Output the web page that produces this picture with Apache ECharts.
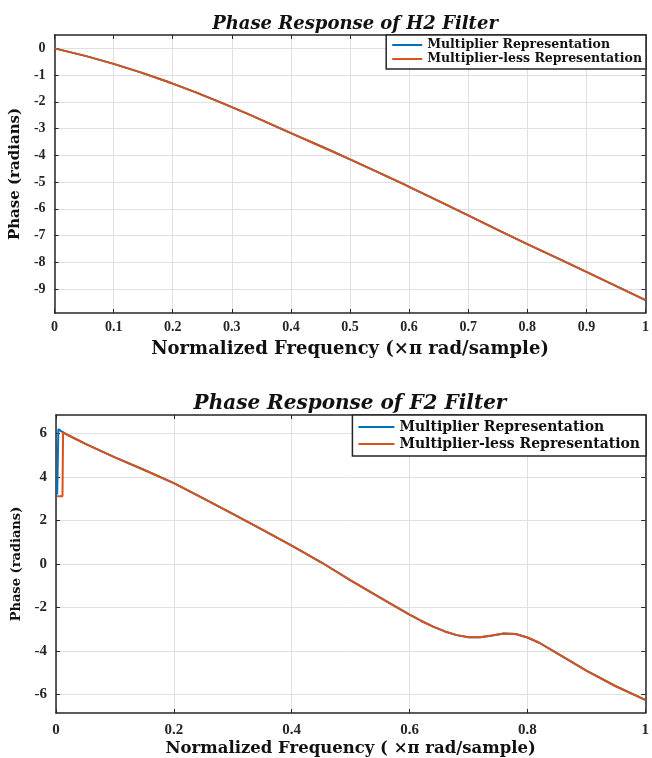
<!DOCTYPE html>
<html>
<head>
<meta charset="utf-8">
<script src="https://cdn.jsdelivr.net/npm/echarts@6/dist/echarts.min.js"></script>
<style>
  html, body { margin: 0; background: #fff; }
  #chart { width: 652px; height: 758px; }
</style>
</head>
<body>
<div id="chart"></div>
<script>
// H2 filter phase
const h2Freq      = [0, 0.1, 0.2, 0.3, 0.4, 0.5, 0.6, 0.7, 0.8, 0.9, 1];
const h2Mult      = [0, -0.58, -1.32, -2.2, -3.17, -4.15, -5.18, -6.25, -7.32, -8.36, -9.42];
const h2MultLess  = [0, -0.58, -1.32, -2.2, -3.17, -4.15, -5.18, -6.25, -7.32, -8.36, -9.42];
const h2YTicks    = [-9, -8, -7, -6, -5, -4, -3, -2, -1, 0];

// F2 filter phase: the start of each curve differs, the rest overlaps
const f2MultStartFreq = [0.002, 0.004, 0.008];
const f2MultStart     = [3.2, 6.2, 6.12];
const f2LessStartFreq = [0.002, 0.011, 0.012];
const f2LessStart     = [3.12, 3.12, 6.05];
const f2Freq = [0.02, 0.05, 0.1, 0.15, 0.2, 0.25, 0.3, 0.35, 0.4, 0.45, 0.5, 0.55, 0.6,
                0.62, 0.64, 0.66, 0.68, 0.7, 0.72, 0.74, 0.76, 0.78, 0.8, 0.82, 0.85,
                0.9, 0.95, 1];
const f2Phase = [5.93, 5.52, 4.9, 4.32, 3.72, 3.02, 2.3, 1.58, 0.84, 0.08, -0.75, -1.55, -2.33,
                 -2.62, -2.88, -3.1, -3.27, -3.37, -3.37, -3.29, -3.2, -3.22, -3.38, -3.62, -4.1,
                 -4.9, -5.62, -6.25];
const f2YTicks = [-6, -4, -2, 0, 2, 4, 6];

const legendNames = ['Multiplier Representation', 'Multiplier-less Representation'];
const colors = ['#0072BD', '#D95319'];

const pairs = (xs, ys) => xs.map((x, i) => [x, ys[i]]);

const serif = 'Liberation Serif';
const wide = 'DejaVu Serif';
const dark = '#262626';
const tickText = { color: dark, fontFamily: serif, fontWeight: 'bold', fontSize: 14 };
const nameText = size => ({ color: '#111', fontFamily: wide, fontWeight: 'bold', fontSize: size });

function frame(extra) {
  return Object.assign({
    type: 'value',
    axisLine: { onZero: false, lineStyle: { color: dark, width: 1.5 } },
    axisTick: { inside: true, length: 4, lineStyle: { color: dark } },
    splitLine: { lineStyle: { color: '#e0e0e0', width: 1 } }
  }, extra);
}

function boxSide(extra) {
  return frame(Object.assign({
    axisLabel: { show: false },
    splitLine: { show: false }
  }, extra));
}

const chart = echarts.init(document.getElementById('chart'), null, { renderer: 'canvas' });

chart.setOption({
  animation: false,
  backgroundColor: '#fff',
  title: [
    {
      text: 'Phase Response of H2 Filter', left: 350, top: 10, textAlign: 'center',
      textStyle: { fontFamily: wide, fontStyle: 'italic', fontWeight: 'bold', fontSize: 18, color: '#111' }
    },
    {
      text: 'Phase Response of F2 Filter', left: 345, top: 389, textAlign: 'center',
      textStyle: { fontFamily: wide, fontStyle: 'italic', fontWeight: 'bold', fontSize: 20, color: '#111' }
    }
  ],
  legend: [
    {
      data: legendNames, orient: 'vertical', right: 6, top: 35,
      padding: [3, 4, 3, 6], itemGap: 0, itemWidth: 30, itemHeight: 2, icon: 'rect',
      backgroundColor: '#fff', borderColor: dark, borderWidth: 1.5,
      textStyle: { fontFamily: wide, fontWeight: 'bold', fontSize: 12.5, lineHeight: 14, color: '#111' }
    },
    {
      data: legendNames, orient: 'vertical', right: 6, top: 415,
      padding: [4, 6, 4, 6], itemGap: 1, itemWidth: 36, itemHeight: 2, icon: 'rect',
      backgroundColor: '#fff', borderColor: dark, borderWidth: 1.5,
      textStyle: { fontFamily: wide, fontWeight: 'bold', fontSize: 14, lineHeight: 16, color: '#111' }
    }
  ],
  grid: [
    { left: 54, right: 4, top: 35, height: 278 },
    { left: 56, right: 4, top: 415, height: 298 }
  ],
  xAxis: [
    frame({
      gridIndex: 0, min: 0, max: 1, interval: 0.1,
      axisLabel: Object.assign({ margin: 7 }, tickText),
      name: 'Normalized Frequency (×π rad/sample)', nameLocation: 'middle', nameGap: 27,
      nameTextStyle: nameText(18)
    }),
    boxSide({ gridIndex: 0, position: 'top', min: 0, max: 1, interval: 0.1 }),
    frame({
      gridIndex: 1, min: 0, max: 1, interval: 0.2,
      axisLabel: Object.assign({ margin: 10 }, tickText, { fontSize: 15 }),
      name: 'Normalized Frequency ( ×π rad/sample)', nameLocation: 'middle', nameGap: 27,
      nameTextStyle: nameText(16.5)
    }),
    boxSide({ gridIndex: 1, position: 'top', min: 0, max: 1, interval: 0.2 })
  ],
  yAxis: [
    frame({
      gridIndex: 0, min: -9.9, max: 0.5,
      axisTick: { inside: true, length: 4, lineStyle: { color: dark }, customValues: h2YTicks },
      axisLabel: Object.assign({ margin: 9, customValues: h2YTicks }, tickText),
      name: 'Phase (radians)', nameLocation: 'middle', nameGap: 30, nameTextStyle: nameText(15)
    }),
    boxSide({
      gridIndex: 0, position: 'right', min: -9.9, max: 0.5,
      axisTick: { inside: true, length: 4, lineStyle: { color: dark }, customValues: h2YTicks }
    }),
    frame({
      gridIndex: 1, min: -6.85, max: 6.85,
      axisTick: { inside: true, length: 4, lineStyle: { color: dark }, customValues: f2YTicks },
      axisLabel: Object.assign({ margin: 9, customValues: f2YTicks }, tickText, { fontSize: 15 }),
      name: 'Phase (radians)', nameLocation: 'middle', nameGap: 28, nameTextStyle: nameText(13)
    }),
    boxSide({
      gridIndex: 1, position: 'right', min: -6.85, max: 6.85,
      axisTick: { inside: true, length: 4, lineStyle: { color: dark }, customValues: f2YTicks }
    })
  ],
  series: [
    {
      name: legendNames[0], type: 'line', xAxisIndex: 0, yAxisIndex: 0,
      data: pairs(h2Freq, h2Mult), smooth: true, symbol: 'none',
      lineStyle: { color: colors[0], width: 2 }, itemStyle: { color: colors[0] }
    },
    {
      name: legendNames[1], type: 'line', xAxisIndex: 0, yAxisIndex: 0,
      data: pairs(h2Freq, h2MultLess), smooth: true, symbol: 'none',
      lineStyle: { color: colors[1], width: 2 }, itemStyle: { color: colors[1] }
    },
    {
      name: legendNames[0], type: 'line', xAxisIndex: 2, yAxisIndex: 2,
      data: pairs(f2MultStartFreq.concat(f2Freq), f2MultStart.concat(f2Phase)),
      symbol: 'none',
      lineStyle: { color: colors[0], width: 2 }, itemStyle: { color: colors[0] }
    },
    {
      name: legendNames[1], type: 'line', xAxisIndex: 2, yAxisIndex: 2,
      data: pairs(f2LessStartFreq.concat(f2Freq), f2LessStart.concat(f2Phase)),
      symbol: 'none',
      lineStyle: { color: colors[1], width: 2 }, itemStyle: { color: colors[1] }
    }
  ]
});
</script>
</body>
</html>
